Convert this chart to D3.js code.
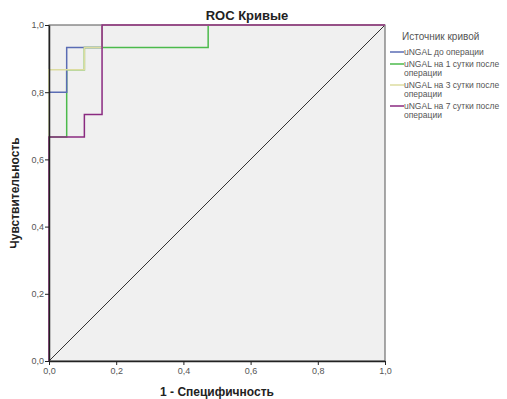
<!DOCTYPE html>
<html>
<head>
<meta charset="utf-8">
<script src="https://cdn.jsdelivr.net/npm/d3@7"></script>
<style>
  body { margin: 0; background: #fff; }
  text { font-family: Arial, "Liberation Sans", sans-serif; }
</style>
</head>
<body>
<div id="chart"></div>
<script>
// ROC curve points (1 - specificity, sensitivity), 19 negatives / 15 positives
const seriesNames = [
  "uNGAL до операции",
  "uNGAL на 1 сутки после операции",
  "uNGAL на 3 сутки после операции",
  "uNGAL на 7 сутки после операции"
];
const fprBefore = [0, 0, 1/19, 1/19, 3/19, 3/19, 1];
const tprBefore = [0, 12/15, 12/15, 14/15, 14/15, 1, 1];
const fprDay1 = [0, 0, 1/19, 1/19, 2/19, 2/19, 9/19, 9/19, 1];
const tprDay1 = [0, 10/15, 10/15, 13/15, 13/15, 14/15, 14/15, 1, 1];
const fprDay3 = [0, 0, 2/19, 2/19, 3/19, 3/19, 1];
const tprDay3 = [0, 13/15, 13/15, 14/15, 14/15, 1, 1];
const fprDay7 = [0, 0, 2/19, 2/19, 3/19, 3/19, 1];
const tprDay7 = [0, 10/15, 10/15, 11/15, 11/15, 1, 1];
const tickValues = [0, 0.2, 0.4, 0.6, 0.8, 1.0];

const colors = ["#5a6cb4", "#4cba4c", "#dcdca0", "#8a2a80"];
const legendLabels = [
  ["uNGAL до операции"],
  ["uNGAL на 1 сутки после", "операции"],
  ["uNGAL на 3 сутки после", "операции"],
  ["uNGAL на 7 сутки после", "операции"]
];

const width = 507, height = 399;
const x0 = 49, x1 = 385, y0 = 361, y1 = 25;

const svg = d3.select("#chart").append("svg")
  .attr("width", width).attr("height", height);

const x = d3.scaleLinear().domain([0, 1]).range([x0, x1]);
const y = d3.scaleLinear().domain([0, 1]).range([y0, y1]);

// plot background
svg.append("rect")
  .attr("x", x0).attr("y", y1)
  .attr("width", x1 - x0).attr("height", y0 - y1)
  .attr("fill", "#f0f0f0")
  .attr("stroke", "#555").attr("stroke-width", 1);

// diagonal reference
svg.append("line")
  .attr("x1", x(0)).attr("y1", y(0))
  .attr("x2", x(1)).attr("y2", y(1))
  .attr("stroke", "#333").attr("stroke-width", 1);

const curves = [
  d3.zip(fprDay1, tprDay1),
  d3.zip(fprBefore, tprBefore),
  d3.zip(fprDay3, tprDay3),
  d3.zip(fprDay7, tprDay7)
];
const curveColors = [colors[1], colors[0], colors[2], colors[3]];

const line = d3.line().x(d => x(d[0])).y(d => y(d[1]));

svg.selectAll("path.roc")
  .data(curves)
  .enter().append("path")
  .attr("class", "roc")
  .attr("d", line)
  .attr("fill", "none")
  .attr("stroke", (d, i) => curveColors[i])
  .attr("stroke-width", 1.5);

// axes
const xAxis = d3.axisBottom(x).tickValues(tickValues)
  .tickFormat(d => d3.format(".1f")(d).replace(".", ","))
  .tickSize(4).tickSizeOuter(0);
const yAxis = d3.axisLeft(y).tickValues(tickValues)
  .tickFormat(d => d3.format(".1f")(d).replace(".", ","))
  .tickSize(4).tickSizeOuter(0);

const gx = svg.append("g").attr("transform", `translate(0,${y0})`).call(xAxis);
const gy = svg.append("g").attr("transform", `translate(${x0},0)`).call(yAxis);
[gx, gy].forEach(g => {
  g.select(".domain").attr("stroke", "#222").attr("stroke-width", 1.5);
  g.selectAll(".tick line").attr("stroke", "#222");
  g.selectAll(".tick text").attr("fill", "#555").style("font-size", "9px");
});
gy.selectAll(".tick text").attr("x", -5);

// titles
svg.append("text")
  .attr("x", 247).attr("y", 20)
  .attr("text-anchor", "middle")
  .style("font-size", "13px").style("font-weight", "bold").attr("fill", "#222")
  .text("ROC Кривые");

svg.append("text")
  .attr("x", (x0 + x1) / 2).attr("y", 396)
  .attr("text-anchor", "middle")
  .style("font-size", "12px").style("font-weight", "bold").attr("fill", "#222")
  .text("1 - Специфичность");

svg.append("text")
  .attr("transform", `translate(19,${(y0 + y1) / 2}) rotate(-90)`)
  .attr("text-anchor", "middle")
  .style("font-size", "12px").style("font-weight", "bold").attr("fill", "#222")
  .text("Чувствительность");

// legend
const legend = svg.append("g");
legend.append("text")
  .attr("x", 402).attr("y", 40)
  .style("font-size", "10px").attr("fill", "#555")
  .text("Источник кривой");

const legendY = [52, 64, 85, 106];
legendLabels.forEach((lines, i) => {
  const ly = legendY[i];
  legend.append("line")
    .attr("x1", 390).attr("x2", 404)
    .attr("y1", ly).attr("y2", ly)
    .attr("stroke", colors[i]).attr("stroke-width", 1.5);
  lines.forEach((t, j) => {
    legend.append("text")
      .attr("x", 404).attr("y", ly + 3 + j * 9)
      .style("font-size", "8.5px").attr("fill", "#555")
      .text(t);
  });
});
</script>
</body>
</html>
